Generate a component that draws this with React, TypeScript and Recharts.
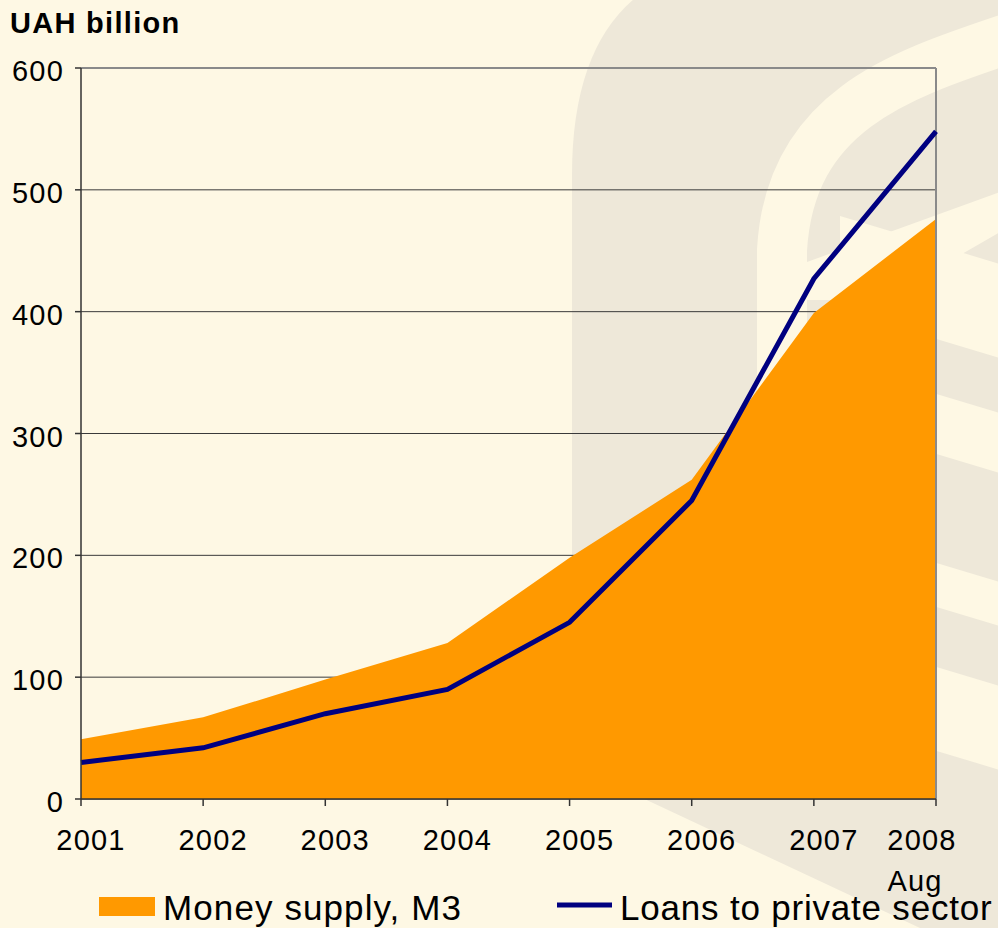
import React from 'react';
import {
  ComposedChart,
  Area,
  Line,
  XAxis,
  YAxis,
  CartesianGrid,
  Legend,
  ReferenceLine,
} from 'recharts';

const years = ['2001', '2002', '2003', '2004', '2005', '2006', '2007', '2008'];
const moneySupplyM3 = [49, 67, 98, 128, 198, 262, 399, 476];
const loansPrivateSector = [30, 42, 70, 90, 145, 245, 427, 548];
const yTicks = [0, 100, 200, 300, 400, 500, 600];
const lastYearNote = 'Aug';

const data = years.map((year, i) => ({
  year,
  m3: moneySupplyM3[i],
  loans: loansPrivateSector[i],
}));

const BG = '#FEF8E4';
const DECO = '#EEE8D9';
const ORANGE = '#FF9900';
const NAVY = '#000080';
const FONT = '"Liberation Sans", Arial, sans-serif';

// cream stripes over the logo on the right edge
const stripes = [
  [264, 358],
  [413, 473],
  [582, 626],
  [686, 770],
];

function Backdrop() {
  return (
    <svg width={998} height={928} style={{ position: 'absolute', left: 0, top: 0 }}>
      <rect width={998} height={928} fill={BG} />
      <path d="M 572 765 L 572 175 Q 572 -40 760 -40 L 1000 -40 L 1000 928 L 920 928 Z" fill={DECO} />
      <path d="M 1010 38 C 900 75, 790 110, 782 250 L 782 620" stroke={BG} strokeWidth={50} fill="none" />
      <path d="M 807 262 L 1000 192 L 1000 232 L 955 258 L 1000 268 L 1000 300 L 807 300 Z" fill={BG} />
      {stripes.map(([a, b], i) => (
        <path key={i} d={`M 840 ${a - 48} L 1000 ${a} L 1000 ${b} L 840 ${b - 48} Z`} fill={BG} />
      ))}
      <text x={10} y={33} fontFamily={FONT} fontSize={29} fontWeight="bold" letterSpacing={1.3} fill="#000">
        UAH billion
      </text>
    </svg>
  );
}

function XTick(props: any) {
  const { x, y, payload, index } = props;
  const last = index === years.length - 1;
  return (
    <g>
      <text
        x={x + (last ? -14 : 10)}
        y={y + 44}
        textAnchor="middle"
        fontFamily={FONT}
        fontSize={29}
        letterSpacing={1.2}
        fill="#000"
      >
        {payload.value}
      </text>
      {last && (
        <text x={x - 21} y={y + 85} textAnchor="middle" fontFamily={FONT} fontSize={29} letterSpacing={1.2} fill="#000">
          {lastYearNote}
        </text>
      )}
    </g>
  );
}

function YTick(props: any) {
  const { x, y, payload } = props;
  return (
    <text x={x} y={y + 13} textAnchor="end" fontFamily={FONT} fontSize={29} letterSpacing={1.2} fill="#000">
      {payload.value}
    </text>
  );
}

function LegendContent() {
  return (
    <svg width={998} height={43}>
      <rect x={99} y={12} width={56} height={19} fill={ORANGE} />
      <text x={163} y={35} fontFamily={FONT} fontSize={35} letterSpacing={1.1} fill="#000">
        Money supply, M3
      </text>
      <line x1={557} x2={612} y1={20} y2={20} stroke={NAVY} strokeWidth={5} />
      <text x={620} y={35} fontFamily={FONT} fontSize={35} letterSpacing={0.8} fill="#000">
        Loans to private sector
      </text>
    </svg>
  );
}

export default function App() {
  return (
    <div style={{ position: 'absolute', left: 0, top: 0, width: 998, height: 928, overflow: 'hidden', background: BG }}>
      <Backdrop />
      <div style={{ position: 'absolute', left: 0, top: 0 }}>
        <ComposedChart width={998} height={928} data={data} margin={{ top: 68, right: 62, bottom: 0, left: 0 }}>
          <CartesianGrid vertical={false} stroke="#3a3a3a" strokeWidth={1} />
          <XAxis
            dataKey="year"
            scale="point"
            padding={{ left: 0, right: 0 }}
            height={129}
            tickSize={7}
            tickMargin={0}
            interval={0}
            axisLine={{ stroke: '#333', strokeWidth: 1.5 }}
            tickLine={{ stroke: '#333', strokeWidth: 1.5 }}
            tick={<XTick />}
          />
          <YAxis
            type="number"
            domain={[0, 600]}
            ticks={yTicks}
            width={81}
            tickSize={6}
            tickMargin={11}
            interval={0}
            axisLine={{ stroke: '#333', strokeWidth: 1.5 }}
            tickLine={{ stroke: '#333', strokeWidth: 1.5 }}
            tick={<YTick />}
          />
          <ReferenceLine y={600} stroke="#8a8a8a" strokeWidth={2} />
          <ReferenceLine x="2008" stroke="#8a8a8a" strokeWidth={2} />
          <Area
            type="linear"
            dataKey="m3"
            name="Money supply, M3"
            fill={ORANGE}
            fillOpacity={1}
            stroke="none"
            isAnimationActive={false}
          />
          <Line
            type="linear"
            dataKey="loans"
            name="Loans to private sector"
            stroke={NAVY}
            strokeWidth={5}
            dot={false}
            activeDot={false}
            isAnimationActive={false}
          />
          <Legend
            layout="horizontal"
            verticalAlign="middle"
            align="center"
            wrapperStyle={{ top: 885, left: 0, width: 998, height: 43 }}
            content={() => <LegendContent />}
          />
        </ComposedChart>
      </div>
    </div>
  );
}
